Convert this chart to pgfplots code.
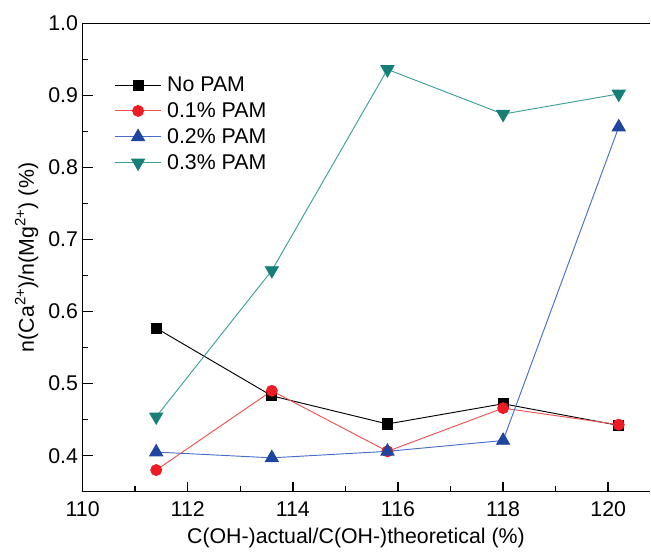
\documentclass[border=0pt]{standalone}
\usepackage{pgfplots}
\pgfplotsset{compat=1.18}
\usepackage{fontspec}
\setmainfont{Liberation Sans}

\definecolor{mred}{RGB}{237,28,36}
\definecolor{lred}{RGB}{240,80,80}
\definecolor{mblue}{RGB}{30,70,158}
\definecolor{lblue}{RGB}{70,110,200}
\definecolor{mteal}{RGB}{22,128,120}
\definecolor{lteal}{RGB}{60,160,152}

\begin{document}
\begin{tikzpicture}
\begin{axis}[
    width=426pt, height=351.5pt,
    scale only axis,
    font=\fontsize{16}{18.5}\selectfont,
    separate axis lines,
    axis x line=box,
    axis y line=left,
    axis line style={-, line width=1.1pt},
    xmin=110, xmax=120.8,
    ymin=0.35, ymax=1.0,
    xtick={110,112,...,120},
    minor xtick={111,113,...,119},
    ytick={0.4,0.5,...,1.0},
    minor ytick={0.45,0.55,...,0.95},
    xtick pos=lower, ytick pos=left,
    tick align=inside,
    major tick length=7.5pt, minor tick length=4pt,
    every tick/.style={black, line width=1.1pt},
    /pgf/number format/assume math mode=true,
    yticklabel style={/pgf/number format/fixed, /pgf/number format/fixed zerofill, /pgf/number format/precision=1, xshift=0pt},
    xticklabel style={/pgf/number format/set thousands separator={}, yshift=-4pt},
    xlabel={C(OH-)actual/C(OH-)theoretical (\%)},
    ylabel={n(Ca\textsuperscript{2+})/n(Mg\textsuperscript{2+}) (\%)},
    every axis x label/.style={at={([yshift=-35pt]axis cs:115.2,0.35)}, anchor=center},
    every axis y label/.style={at={([xshift=-42pt]axis description cs:0,0.5)}, rotate=90, anchor=center},
    legend style={at={(0.053,0.895)}, anchor=north west, draw=none, fill=none,
        row sep=2.8pt, inner sep=1pt, nodes={inner xsep=4pt}},
    legend cell align=left,
    legend image code/.code={\draw[mark repeat=2,mark phase=2] plot coordinates {(0pt,0pt) (17.5pt,0pt) (35pt,0pt)};},
    clip=false,
]
\addplot[black, line width=0.7pt, mark=square*, mark size=3.8pt, mark options={solid, fill=black}] coordinates {
    (111.4,0.577) (113.6,0.483) (115.8,0.444) (118.0,0.472) (120.2,0.442)
};
\addlegendentry{No PAM}
\addplot[lred, line width=0.7pt, mark=*, mark size=4.1pt, mark options={solid, draw=mred, fill=mred}] coordinates {
    (111.4,0.380) (113.6,0.490) (115.8,0.406) (118.0,0.466) (120.2,0.443)
};
\addlegendentry{0.1\% PAM}
\addplot[lblue, line width=0.7pt, mark=triangle*, mark size=5.6pt, mark options={solid, draw=mblue, fill=mblue}] coordinates {
    (111.4,0.405) (113.6,0.397) (115.8,0.406) (118.0,0.421) (120.2,0.856)
};
\addlegendentry{0.2\% PAM}
\addplot[lteal, line width=0.7pt, mark=triangle*, mark size=5.6pt, mark options={solid, rotate=180, draw=mteal, fill=mteal}] coordinates {
    (111.4,0.454) (113.6,0.657) (115.8,0.936) (118.0,0.874) (120.2,0.902)
};
\addlegendentry{0.3\% PAM}
\coordinate (tl) at (axis description cs:0,1);
\coordinate (bl) at (axis description cs:0,0);
\end{axis}
\path (tl) ++(-62pt,17.5pt);
\path (bl) ++(0,-45.8pt);
\end{tikzpicture}
\end{document}
